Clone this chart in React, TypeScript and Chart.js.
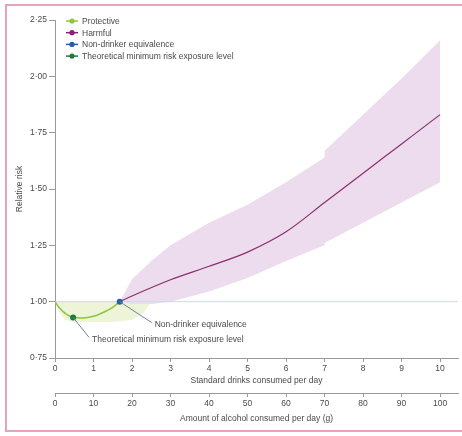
import React, { useEffect, useRef } from "react";
import { Chart, registerables } from "chart.js";

Chart.register(...registerables);

// ---------- data ----------
const drinkTicks = [0, 1, 2, 3, 4, 5, 6, 7, 8, 9, 10];
const gramTicks = [0, 10, 20, 30, 40, 50, 60, 70, 80, 90, 100];
const yTicks = [0.75, 1.0, 1.25, 1.5, 1.75, 2.0, 2.25];
const yTickLabels = ["0·75", "1·00", "1·25", "1·50", "1·75", "2·00", "2·25"];
const drinkAxisMax = 10.465;
const gramAxisMax = 104.65;

const protectiveX = [0, 0.1, 0.25, 0.47, 0.7, 1.0, 1.25, 1.5, 1.68];
const protectiveY = [1.0, 0.975, 0.95, 0.93, 0.928, 0.935, 0.952, 0.975, 1.0];

const harmfulX = [1.68, 2, 3, 4, 5, 6, 7, 8, 9, 10];
const harmfulY = [1.0, 1.025, 1.097, 1.157, 1.22, 1.31, 1.44, 1.57, 1.7, 1.83];

const protectiveBandX = [0, 0.1, 0.25, 0.5, 1.0, 1.5, 2.0, 2.3, 2.5];
const protectiveBandUpper = [1.0, 1.0, 1.0, 1.0, 1.0, 1.0, 1.0, 1.0, 1.0];
const protectiveBandLower = [1.0, 0.96, 0.92, 0.91, 0.91, 0.91, 0.92, 0.95, 1.0];

const harmfulBandX = [1.68, 2, 2.5, 3, 4, 5, 6, 7, 7, 8, 9, 10];
const harmfulBandUpper = [1.0, 1.1, 1.18, 1.25, 1.35, 1.43, 1.53, 1.64, 1.67, 1.83, 1.99, 2.16];
const harmfulBandLower = [1.0, 0.99, 0.99, 1.0, 1.045, 1.105, 1.18, 1.25, 1.26, 1.35, 1.44, 1.53];

const referenceX = [0, drinkAxisMax];
const referenceY = [1.0, 1.0];

const tmrelX = [0.47];
const tmrelY = [0.93];
const nonDrinkerX = [1.68];
const nonDrinkerY = [1.0];

const legendLabels = [
  "Protective",
  "Harmful",
  "Non-drinker equivalence",
  "Theoretical minimum risk exposure level",
];
const legendColors = ["#8cc63f", "#8e1f78", "#2460a8", "#1d7a3f"];

const annotationLabels = ["Non-drinker equivalence", "Theoretical minimum risk exposure level"];

const xTitle = "Standard drinks consumed per day";
const x2Title = "Amount of alcohol consumed per day (g)";
const yTitle = "Relative risk";

// ---------- helpers ----------
const pts = (xs: number[], ys: number[]) => xs.map((x, i) => ({ x, y: ys[i] }));

const FONT = '"Liberation Sans", Arial, sans-serif';
const FS = 8.5;
const TEXT = "#4a4a4a";
const AXIS = "#9a9a9a";

const overlayPlugin = {
  id: "overlay",
  afterDraw(chart: any) {
    const { ctx, chartArea, scales } = chart;
    const xs = scales.x;
    const ys = scales.y;
    ctx.save();
    ctx.font = `${FS}px ${FONT}`;
    ctx.textBaseline = "middle";
    ctx.textAlign = "left";
    const ann = [
      { label: annotationLabels[0], px: xs.getPixelForValue(nonDrinkerX[0]), py: ys.getPixelForValue(nonDrinkerY[0]), dx: 32, dy: 21 },
      { label: annotationLabels[1], px: xs.getPixelForValue(tmrelX[0]), py: ys.getPixelForValue(tmrelY[0]), dx: 16, dy: 20 },
    ];
    ann.forEach((a) => {
      ctx.strokeStyle = "#6f8396";
      ctx.lineWidth = 1;
      ctx.beginPath();
      ctx.moveTo(a.px, a.py);
      ctx.lineTo(a.px + a.dx, a.py + a.dy);
      ctx.stroke();
      ctx.fillStyle = TEXT;
      ctx.fillText(a.label, a.px + a.dx + 3, a.py + a.dy + 2);
    });
    legendLabels.forEach((lab, i) => {
      const cy = chartArea.top + 1 + i * 11.7;
      const x0 = chartArea.left + 11;
      ctx.strokeStyle = legendColors[i];
      ctx.lineWidth = 1.5;
      ctx.beginPath();
      ctx.moveTo(x0, cy);
      ctx.lineTo(x0 + 12, cy);
      ctx.stroke();
      ctx.fillStyle = legendColors[i];
      ctx.beginPath();
      ctx.arc(x0 + 6, cy, 2.6, 0, Math.PI * 2);
      ctx.fill();
      ctx.fillStyle = TEXT;
      ctx.fillText(lab, x0 + 16, cy + 0.5);
    });
    ctx.restore();
  },
};

export default function App() {
  const ref = useRef<HTMLCanvasElement | null>(null);

  useEffect(() => {
    if (!ref.current) return;
    const bandBase = { borderWidth: 0, pointRadius: 0, tension: 0, borderColor: "transparent" };
    const tickFont = { family: FONT, size: FS };
    const chart = new Chart(ref.current, {
      type: "line",
      data: {
        datasets: [
          { ...bandBase, data: pts(protectiveBandX, protectiveBandUpper), fill: "+1", backgroundColor: "#eef4d8", order: 10 },
          { ...bandBase, data: pts(protectiveBandX, protectiveBandLower), fill: false, order: 10 },
          { ...bandBase, data: pts(harmfulBandX, harmfulBandUpper), fill: "+1", backgroundColor: "#ecdcee", order: 9 },
          { ...bandBase, data: pts(harmfulBandX, harmfulBandLower), fill: false, order: 9 },
          { data: pts(referenceX, referenceY), borderColor: "#cfdae4", borderWidth: 1, pointRadius: 0, fill: false, order: 5 },
          { data: pts(protectiveX, protectiveY), borderColor: legendColors[0], borderWidth: 1.5, pointRadius: 0, fill: false, cubicInterpolationMode: "monotone", order: 3 },
          { data: pts(harmfulX, harmfulY), borderColor: "#8a2f6e", borderWidth: 1.2, pointRadius: 0, fill: false, cubicInterpolationMode: "monotone", order: 3 },
          { data: pts(tmrelX, tmrelY), showLine: false, pointRadius: 3, pointBackgroundColor: legendColors[3], pointBorderWidth: 0, order: 1 },
          { data: pts(nonDrinkerX, nonDrinkerY), showLine: false, pointRadius: 3, pointBackgroundColor: legendColors[2], pointBorderWidth: 0, order: 1 },
        ] as any,
      },
      options: {
        animation: false,
        responsive: false,
        devicePixelRatio: 1,
        layout: { padding: { left: 0, top: 20, right: 2, bottom: 10 } },
        plugins: { legend: { display: false }, tooltip: { enabled: false } },
        scales: {
          x: {
            type: "linear",
            position: "bottom",
            weight: 0,
            min: 0,
            max: drinkAxisMax,
            afterBuildTicks: (s: any) => { s.ticks = drinkTicks.map((v) => ({ value: v })); },
            afterFit: (s: any) => { s.height = 35; },
            ticks: { includeBounds: false, padding: 2, color: TEXT, font: tickFont, maxRotation: 0, callback: (v: any) => String(v) },
            grid: { drawOnChartArea: false, drawTicks: true, tickLength: 4, color: AXIS },
            border: { display: true, color: AXIS, width: 1 },
            title: { display: true, text: xTitle, color: TEXT, font: tickFont, padding: { top: 0, bottom: 7 } },
          },
          x2: {
            type: "linear",
            position: "bottom",
            weight: 1,
            min: 0,
            max: gramAxisMax,
            afterBuildTicks: (s: any) => { s.ticks = gramTicks.map((v) => ({ value: v })); },
            afterFit: (s: any) => { s.height = 33; },
            ticks: { includeBounds: false, padding: 2, color: TEXT, font: tickFont, maxRotation: 0, callback: (v: any) => String(v) },
            grid: { drawOnChartArea: false, drawTicks: true, tickLength: 4, color: AXIS },
            border: { display: true, color: AXIS, width: 1 },
            title: { display: true, text: x2Title, color: TEXT, font: tickFont, padding: { top: 0, bottom: 2 } },
          },
          y: {
            type: "linear",
            position: "left",
            min: 0.75,
            max: 2.25,
            afterBuildTicks: (s: any) => { s.ticks = yTicks.map((v) => ({ value: v })); },
            afterFit: (s: any) => { s.width = 55; },
            ticks: {
              padding: 2,
              color: TEXT,
              font: tickFont,
              callback: (v: any) => {
                const i = yTicks.findIndex((t) => Math.abs(t - Number(v)) < 1e-6);
                return i >= 0 ? yTickLabels[i] : "";
              },
            },
            grid: { drawOnChartArea: false, drawTicks: true, tickLength: 6, color: AXIS },
            border: { display: true, color: AXIS, width: 1 },
            title: { display: true, text: yTitle, color: TEXT, font: tickFont, padding: { top: 15, bottom: 0 } },
          },
        },
      } as any,
      plugins: [overlayPlugin],
    });
    return () => chart.destroy();
  }, []);

  const pink = "#e9a3b8";
  return (
    <div style={{ position: "fixed", left: 0, top: 0, width: 462, height: 436, background: "#fff", overflow: "hidden" }}>
      <div style={{ position: "absolute", left: 5, top: 4, width: 457, height: 2, background: pink }} />
      <div style={{ position: "absolute", left: 5, top: 4, width: 2, height: 428, background: pink }} />
      <div style={{ position: "absolute", left: 5, top: 430, width: 457, height: 2, background: pink }} />
      <canvas ref={ref} width={462} height={436} style={{ position: "absolute", left: 0, top: 0, width: 462, height: 436 }} />
    </div>
  );
}
